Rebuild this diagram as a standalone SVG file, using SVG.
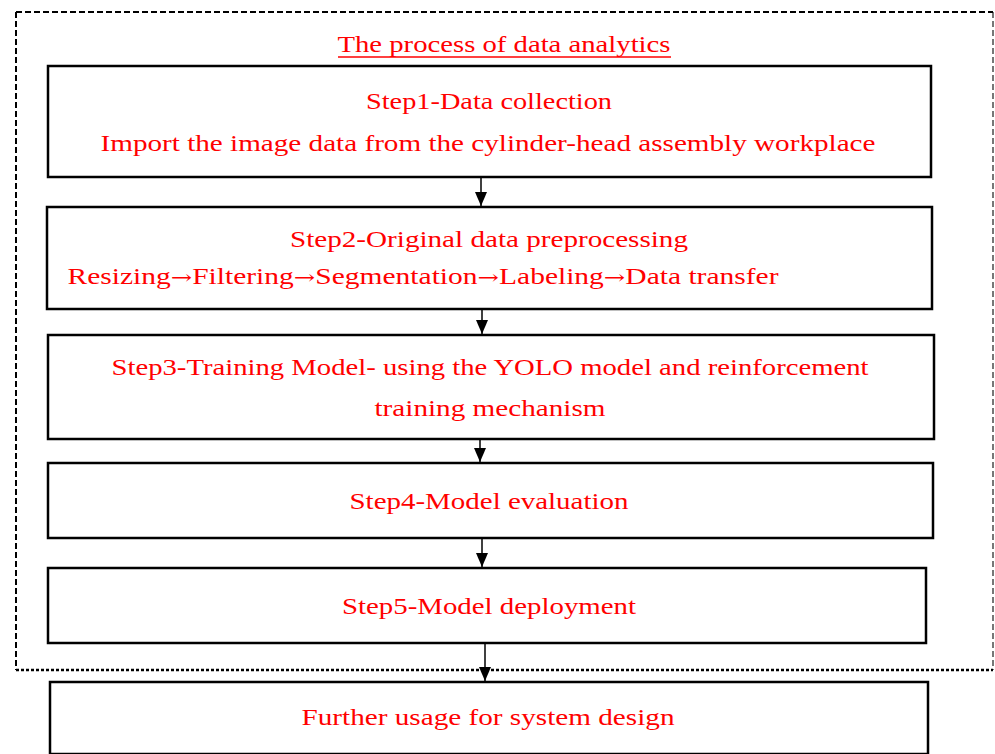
<svg xmlns="http://www.w3.org/2000/svg" width="995" height="754" viewBox="0 0 995 754">
  <style>
    .box { fill: #ffffff; stroke: #000000; stroke-width: 2.5; }
    .lbl { font-family: "Liberation Serif", "DejaVu Serif", serif; font-size: 23px; fill: #ff0000; text-anchor: middle; }
    .sym { font-family: "DejaVu Serif", serif; font-size: 20px; }
    .conn { stroke: #000000; stroke-width: 1.5; fill: none; }
    .dash { fill: none; stroke: #000000; stroke-width: 2; stroke-dasharray: 6,3; }
  </style>
  <defs>
    <marker id="arrow" markerWidth="14" markerHeight="12" refX="14" refY="6" orient="auto" markerUnits="userSpaceOnUse" viewBox="0 0 14 12">
      <path d="M0,0 L14,6 L0,12 Z" fill="#000000"/>
    </marker>
  </defs>
  <rect width="995" height="754" fill="#ffffff"/>

  <!-- dashed frame around the analytics process -->
  <g id="frame">
    <path class="dash" d="M993,12 L993,670" stroke="#777777" style="stroke:#777777"/>
    <path class="dash" d="M16,12 L993,12"/>
    <path class="dash" d="M16,12 L16,670"/>
    <path d="M16,670 L993,670" fill="none" stroke="#000000" stroke-width="2.5" stroke-dasharray="3,2"/>
    <text class="lbl" x="504" y="52" textLength="333" lengthAdjust="spacingAndGlyphs">The process of data analytics</text>
    <line x1="338" y1="57" x2="671" y2="57" stroke="#ff0000" stroke-width="1.3"/>
  </g>

  <g id="step1">
    <rect class="box" x="48" y="66" width="883" height="111"/>
    <text class="lbl" x="489" y="109" textLength="246" lengthAdjust="spacingAndGlyphs">Step1-Data collection</text>
    <text class="lbl" x="488" y="151" textLength="775" lengthAdjust="spacingAndGlyphs">Import the image data from the cylinder-head assembly workplace</text>
  </g>

  <g id="step2">
    <rect class="box" x="47" y="207" width="885" height="102"/>
    <text class="lbl" x="489" y="247" textLength="398" lengthAdjust="spacingAndGlyphs">Step2-Original data preprocessing</text>
    <text class="lbl" x="423" y="284" textLength="711" lengthAdjust="spacingAndGlyphs">Resizing<tspan class="sym">→</tspan>Filtering<tspan class="sym">→</tspan>Segmentation<tspan class="sym">→</tspan>Labeling<tspan class="sym">→</tspan>Data transfer</text>
  </g>

  <g id="step3">
    <rect class="box" x="48" y="335" width="886" height="104"/>
    <text class="lbl" x="490" y="375" textLength="757" lengthAdjust="spacingAndGlyphs">Step3-Training Model- using the YOLO model and reinforcement</text>
    <text class="lbl" x="490" y="416" textLength="231" lengthAdjust="spacingAndGlyphs">training mechanism</text>
  </g>

  <g id="step4">
    <rect class="box" x="48" y="463" width="885" height="75"/>
    <text class="lbl" x="489" y="509" textLength="279" lengthAdjust="spacingAndGlyphs">Step4-Model evaluation</text>
  </g>

  <g id="step5">
    <rect class="box" x="48" y="568" width="878" height="75"/>
    <text class="lbl" x="489" y="614" textLength="294" lengthAdjust="spacingAndGlyphs">Step5-Model deployment</text>
  </g>

  <g id="usage">
    <rect class="box" x="50" y="682" width="878" height="72"/>
    <text class="lbl" x="488" y="725" textLength="373" lengthAdjust="spacingAndGlyphs">Further usage for system design</text>
  </g>

  <g id="connectors">
    <line class="conn" x1="481" y1="177" x2="481" y2="206" marker-end="url(#arrow)"/>
    <line class="conn" x1="482" y1="309" x2="482" y2="334" marker-end="url(#arrow)"/>
    <line class="conn" x1="480" y1="439" x2="480" y2="462" marker-end="url(#arrow)"/>
    <line class="conn" x1="482" y1="538" x2="482" y2="567" marker-end="url(#arrow)"/>
    <line class="conn" x1="485" y1="643" x2="485" y2="681" marker-end="url(#arrow)"/>
  </g>
</svg>
